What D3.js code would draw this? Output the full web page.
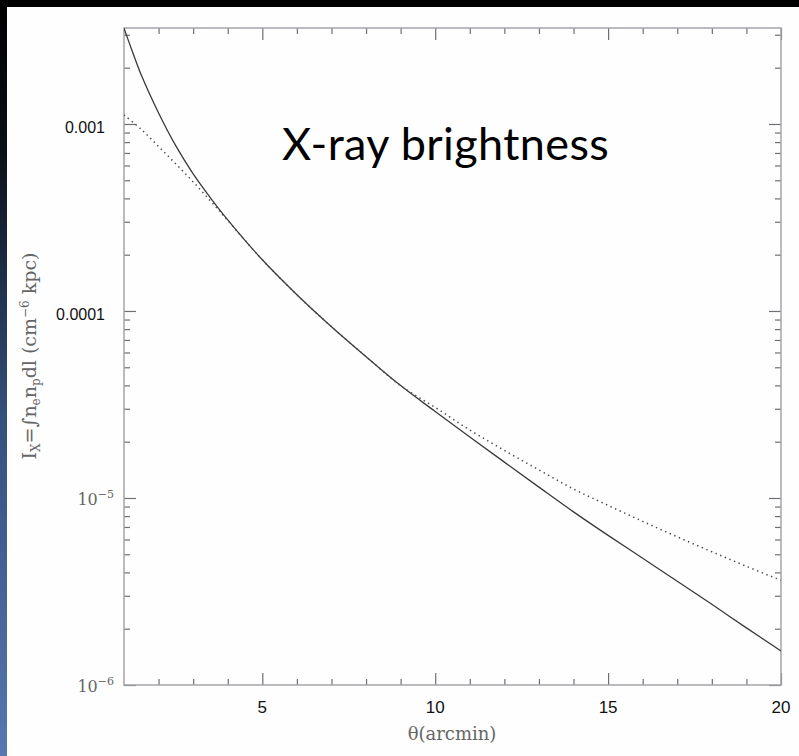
<!DOCTYPE html>
<html>
<head>
<meta charset="utf-8">
<script src="https://cdn.jsdelivr.net/npm/d3@7"></script>
<style>
  html, body { margin: 0; padding: 0; background: #000; }
  svg { display: block; }
</style>
</head>
<body>
<svg id="chart" width="799" height="756"></svg>
<script>
// Projected X-ray surface brightness vs. angular radius (arcmin)
const solidTheta = [1, 1.25, 1.5, 2, 2.5, 3, 3.5, 4, 5, 6, 7, 8, 9, 10, 11, 12, 13, 14, 15, 16, 17, 18, 19, 20];
const solidIx = [3.25e-3, 2.42e-3, 1.826e-3, 1.145e-3, 7.63e-4, 5.41e-4, 4.03e-4, 3.07e-4, 1.878e-4, 1.222e-4,
                 8.24e-5, 5.70e-5, 3.99e-5, 2.90e-5, 2.12e-5, 1.555e-5, 1.143e-5, 8.43e-6, 6.31e-6, 4.76e-6,
                 3.59e-6, 2.70e-6, 2.02e-6, 1.52e-6];

const dottedTheta = [1, 1.5, 2, 2.5, 3, 3.5, 4, 5, 6, 7, 8, 9, 10, 11, 12, 13, 14, 15, 16, 17, 18, 19, 20];
const dottedIx = [1.117e-3, 9.35e-4, 7.58e-4, 6.11e-4, 4.90e-4, 3.88e-4, 3.05e-4, 1.878e-4, 1.222e-4, 8.24e-5,
                  5.70e-5, 3.99e-5, 3.05e-5, 2.31e-5, 1.795e-5, 1.413e-5, 1.117e-5, 9.13e-6, 7.50e-6, 6.20e-6,
                  5.16e-6, 4.31e-6, 3.63e-6];

const thetaRange = [1, 20];
const ixRange = [1e-6, 3.26e-3];
const xMajorTicks = [5, 10, 15, 20];
const xMajorLabels = ["5", "10", "15", "20"];
const yMajorTicks = [1e-3, 1e-4, 1e-5, 1e-6];
const yPlainLabels = ["0.001", "0.0001", null, null];
const yPowerLabels = [null, null, "\u22125", "\u22126"];

const chartTitle = "X-ray brightness";
const xTitle = "\u03B8(arcmin)";

const svg = d3.select("#chart");
const W = 799, H = 756;
const plot = { left: 124, right: 781, top: 28, bottom: 685 };
const serif = "'DejaVu Serif', 'Liberation Serif', serif";
const sans = "'Liberation Sans', Arial, sans-serif";

// page background: black band on top, gradient strip on the left, white sheet
const defs = svg.append("defs");
const grad = defs.append("linearGradient").attr("id", "strip")
  .attr("x1", 0).attr("y1", 0).attr("x2", 0).attr("y2", 1);
grad.append("stop").attr("offset", "0%").attr("stop-color", "#000000");
grad.append("stop").attr("offset", "20%").attr("stop-color", "#0a1018");
grad.append("stop").attr("offset", "55%").attr("stop-color", "#34507c");
grad.append("stop").attr("offset", "100%").attr("stop-color", "#5478b0");
svg.append("rect").attr("x", 0).attr("y", 0).attr("width", W).attr("height", H).attr("fill", "#000");
svg.append("rect").attr("x", 0).attr("y", 0).attr("width", 7).attr("height", H).attr("fill", "url(#strip)");
svg.append("rect").attr("x", 7).attr("y", 7).attr("width", W - 7).attr("height", H - 7).attr("fill", "#fefefe");

const x = d3.scaleLinear().domain(thetaRange).range([plot.left, plot.right]);
const y = d3.scaleLog().domain(ixRange).range([plot.bottom, plot.top]);

// minor ticks
const xMinor = d3.range(2, 20).filter(v => !xMajorTicks.includes(v));
const yMinor = [];
[-6, -5, -4, -3].forEach(p => {
  for (let m = 2; m <= 9; m++) {
    const v = m * Math.pow(10, p);
    if (v > ixRange[0] && v < ixRange[1]) yMinor.push(v);
  }
});

const tickColor = "#6e6e74";
function styleAxis(g) {
  g.select(".domain").remove();
  g.selectAll(".tick line").attr("stroke", tickColor).attr("stroke-width", 1.2);
  g.selectAll(".tick text").remove();
}

const axes = svg.append("g");
axes.append("g").attr("transform", `translate(0,${plot.bottom})`)
  .call(d3.axisBottom(x).tickValues(xMinor).tickSize(-6)).call(styleAxis);
axes.append("g").attr("transform", `translate(0,${plot.bottom})`)
  .call(d3.axisBottom(x).tickValues(xMajorTicks).tickSize(-12)).call(styleAxis);
axes.append("g").attr("transform", `translate(0,${plot.top})`)
  .call(d3.axisTop(x).tickValues(xMinor).tickSize(-6)).call(styleAxis);
axes.append("g").attr("transform", `translate(0,${plot.top})`)
  .call(d3.axisTop(x).tickValues(xMajorTicks).tickSize(-12)).call(styleAxis);
axes.append("g").attr("transform", `translate(${plot.left},0)`)
  .call(d3.axisLeft(y).tickValues(yMinor).tickSize(-6)).call(styleAxis);
axes.append("g").attr("transform", `translate(${plot.left},0)`)
  .call(d3.axisLeft(y).tickValues(yMajorTicks).tickSize(-12)).call(styleAxis);
axes.append("g").attr("transform", `translate(${plot.right},0)`)
  .call(d3.axisRight(y).tickValues(yMinor).tickSize(-6)).call(styleAxis);
axes.append("g").attr("transform", `translate(${plot.right},0)`)
  .call(d3.axisRight(y).tickValues(yMajorTicks).tickSize(-12)).call(styleAxis);

// frame
svg.append("rect")
  .attr("x", plot.left).attr("y", plot.top)
  .attr("width", plot.right - plot.left).attr("height", plot.bottom - plot.top)
  .attr("fill", "none").attr("stroke", "#a4a4aa").attr("stroke-width", 1.5);

// curves
defs.append("clipPath").attr("id", "plotClip").append("rect")
  .attr("x", plot.left).attr("y", plot.top)
  .attr("width", plot.right - plot.left).attr("height", plot.bottom - plot.top);

const line = d3.line().x(d => x(d[0])).y(d => y(d[1])).curve(d3.curveCatmullRom.alpha(0.5));
const curves = svg.append("g").attr("clip-path", "url(#plotClip)");
curves.append("path")
  .datum(solidTheta.map((t, i) => [t, solidIx[i]]))
  .attr("d", line).attr("fill", "none")
  .attr("stroke", "#3a3a3a").attr("stroke-width", 1.3);
curves.append("path")
  .datum(dottedTheta.map((t, i) => [t, dottedIx[i]]))
  .attr("d", line).attr("fill", "none")
  .attr("stroke", "#4a4a4a").attr("stroke-width", 1.5)
  .attr("stroke-dasharray", "1.4,3.6");

// x tick labels
svg.append("g").selectAll("text").data(xMajorTicks).join("text")
  .attr("x", d => x(d)).attr("y", plot.bottom + 28)
  .attr("text-anchor", "middle")
  .attr("font-family", sans)
  .attr("font-size", 17).attr("fill", "#111")
  .text((d, i) => xMajorLabels[i]);

// y tick labels
const yl = svg.append("g");
yMajorTicks.forEach((v, i) => {
  if (yPlainLabels[i]) {
    yl.append("text")
      .attr("x", 105).attr("y", y(v) + 9)
      .attr("text-anchor", "end")
      .attr("font-family", sans)
      .attr("font-size", 16).attr("fill", "#111")
      .text(yPlainLabels[i]);
  } else {
    const t = yl.append("text")
      .attr("x", 114).attr("y", y(v) + 7)
      .attr("text-anchor", "end")
      .attr("font-family", serif)
      .attr("font-size", 16).attr("fill", "#666");
    t.append("tspan").text("10");
    t.append("tspan").attr("dy", -7).attr("font-size", 11).text(yPowerLabels[i]);
  }
});

// axis titles
svg.append("text")
  .attr("x", 452).attr("y", 740)
  .attr("text-anchor", "middle")
  .attr("font-family", serif)
  .attr("font-size", 18).attr("fill", "#666")
  .text(xTitle);

const yt = svg.append("text")
  .attr("transform", "translate(36,356) rotate(-90)")
  .attr("text-anchor", "middle")
  .attr("font-family", serif)
  .attr("font-size", 19).attr("fill", "#666");
yt.append("tspan").text("I");
yt.append("tspan").attr("dy", 4).attr("font-size", 12).text("X");
yt.append("tspan").attr("dy", -4).text("=\u222Bn");
yt.append("tspan").attr("dy", 4).attr("font-size", 12).text("e");
yt.append("tspan").attr("dy", -4).text("n");
yt.append("tspan").attr("dy", 4).attr("font-size", 12).text("p");
yt.append("tspan").attr("dy", -4).text("dl (cm");
yt.append("tspan").attr("dy", -7).attr("font-size", 12).text("\u22126");
yt.append("tspan").attr("dy", 7).text(" kpc)");

// chart title
svg.append("text")
  .attr("x", 282).attr("y", 160)
  .attr("font-family", "Lato, 'Open Sans', sans-serif")
  .attr("font-size", 45).attr("letter-spacing", 0.4).attr("fill", "#000")
  .text(chartTitle);
</script>
</body>
</html>
